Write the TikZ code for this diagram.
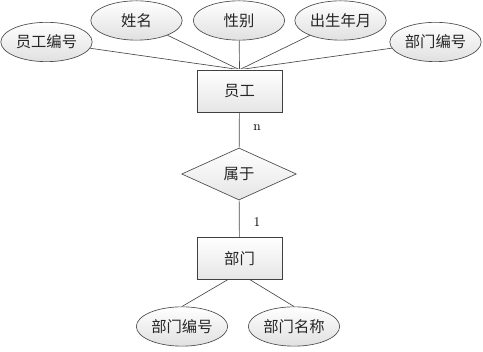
\documentclass[tikz,border=0pt]{standalone}
\usepackage{fontspec}
\newfontfamily\cjk{Noto Sans CJK SC}
\usetikzlibrary{positioning,shapes.geometric,backgrounds}
\tikzset{
  x=0.75pt,y=-0.75pt,
  attr/.style={ellipse,draw=black!70,line width=0.5pt,minimum width=68.5pt,
    minimum height=29.5pt,inner sep=0pt,top color=white,bottom color=black!12,
    text=black!85,font=\cjk\fontsize{11.5}{13}\selectfont},
  ent/.style={rectangle,draw=black!75,line width=0.5pt,minimum width=64pt,
    minimum height=31.5pt,inner sep=0pt,top color=white,bottom color=black!10,
    text=black!85,font=\cjk\fontsize{11.5}{13}\selectfont},
  rel/.style={diamond,draw=black!70,line width=0.5pt,aspect=2.2,
    minimum width=86pt,minimum height=39pt,inner sep=0pt,top color=white,
    bottom color=black!10,text=black!85,font=\cjk\fontsize{11.5}{13}\selectfont},
  link/.style={line width=0.5pt,black!70},
  card/.style={font=\fontsize{10}{11}\selectfont,inner sep=1pt},
}
\begin{document}
\begin{tikzpicture}
  \useasboundingbox (0,0) rectangle (483,352);
  \node[ent] (emp) at (239.5,91) {员工};
  \node[rel] (belong) at (239,174) {属于};
  \node[ent] (dept) at (239.5,258.5) {部门};
  \node[attr] (eno) at (46.5,42) {员工编号};
  \node[attr] (ename) at (136.5,20.5) {姓名};
  \node[attr] (esex) at (239,20.5) {性别};
  \node[attr] (ebirth) at (340.5,20.5) {出生年月};
  \node[attr] (edno) at (435.5,42) {部门编号};
  \node[attr] (dno) at (182,326.5) {部门编号};
  \node[attr] (dname) at (294,326.5) {部门名称};
  \begin{scope}[on background layer]
    \draw[link] (eno) -- (emp.north);
    \draw[link] (ename) -- (emp.north);
    \draw[link] (esex) -- (emp.north);
    \draw[link] (ebirth) -- (emp.north);
    \draw[link] (edno) -- (emp.north);
    \draw[link] (emp) -- (belong);
    \draw[link] (belong) -- (dept);
    \draw[link] (dno.north) -- ([xshift=-9pt]dept.south);
    \draw[link] (dname.north) -- ([xshift=8pt]dept.south);
  \end{scope}
  \node[card] (n) at (257,128) {n};
  \node[card] (one) at (257,222) {1};
\end{tikzpicture}
\end{document}
